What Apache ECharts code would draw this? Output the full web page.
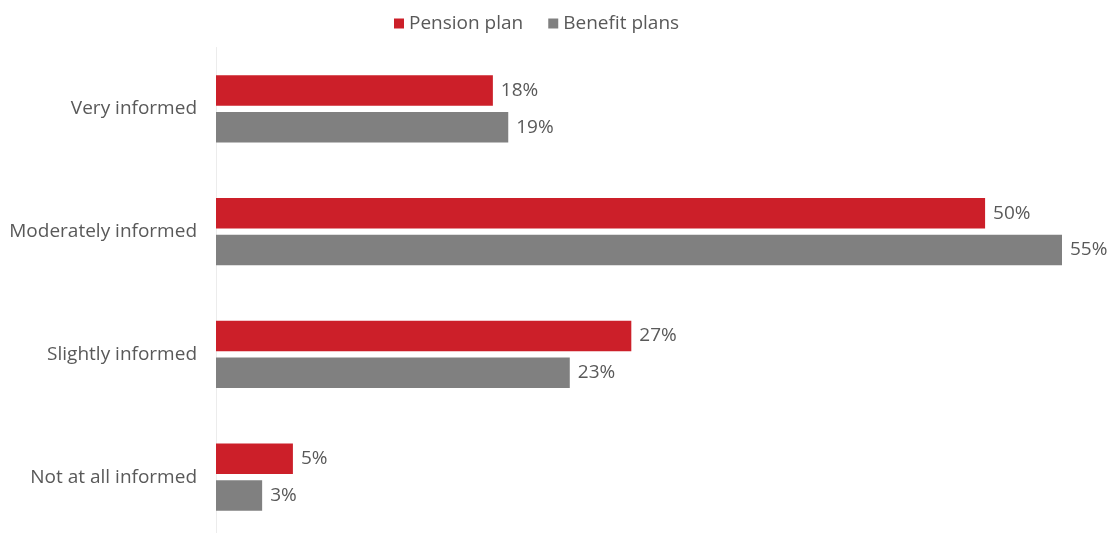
<!DOCTYPE html>
<html>
<head>
<meta charset="utf-8">
<style>
  html, body { margin: 0; padding: 0; background: #ffffff; }
  #chart { width: 1116px; height: 533px; }
</style>
<script src="https://cdn.jsdelivr.net/npm/echarts@6/dist/echarts.min.js"></script>
</head>
<body>
<div id="chart"></div>
<script>
// Survey responses: how informed members feel about their plans
const categories = ['Very informed', 'Moderately informed', 'Slightly informed', 'Not at all informed'];
const pensionPlan = [18, 50, 27, 5];
const benefitPlans = [19, 55, 23, 3];

const FONT = '"Open Sans", "Liberation Sans", sans-serif';
const TEXT = '#595959';

const chart = echarts.init(document.getElementById('chart'), null, { renderer: 'canvas' });

const labelStyle = {
  show: true,
  position: 'right',
  distance: 8,
  color: TEXT,
  fontFamily: FONT,
  fontSize: 19,
  formatter: p => p.value + '%'
};

chart.setOption({
  animation: false,
  backgroundColor: '#ffffff',
  legend: {
    left: 389,
    top: 9,
    itemWidth: 10,
    itemHeight: 10,
    itemGap: 25,
    icon: 'rect',
    textStyle: { color: TEXT, fontFamily: FONT, fontSize: 19, padding: [0, 0, 0, 0] },
    data: ['Pension plan', 'Benefit plans']
  },
  grid: {
    left: 216,
    top: 47.5,
    width: 846,
    height: 491,
    containLabel: false,
    outerBoundsMode: 'none'
  },
  xAxis: {
    type: 'value',
    min: 0,
    max: 55,
    show: false
  },
  yAxis: {
    type: 'category',
    inverse: true,
    data: categories,
    axisLine: { show: true, lineStyle: { color: '#ececec', width: 1 } },
    axisTick: { show: false },
    axisLabel: { color: TEXT, fontFamily: FONT, fontSize: 19, margin: 19 }
  },
  series: [
    {
      name: 'Pension plan',
      type: 'bar',
      data: pensionPlan,
      barWidth: 30.5,
      barGap: '20%',
      itemStyle: { color: '#cc1f29' },
      label: labelStyle
    },
    {
      name: 'Benefit plans',
      type: 'bar',
      data: benefitPlans,
      barWidth: 30.5,
      itemStyle: { color: '#808080' },
      label: labelStyle
    }
  ]
});
</script>
</body>
</html>
